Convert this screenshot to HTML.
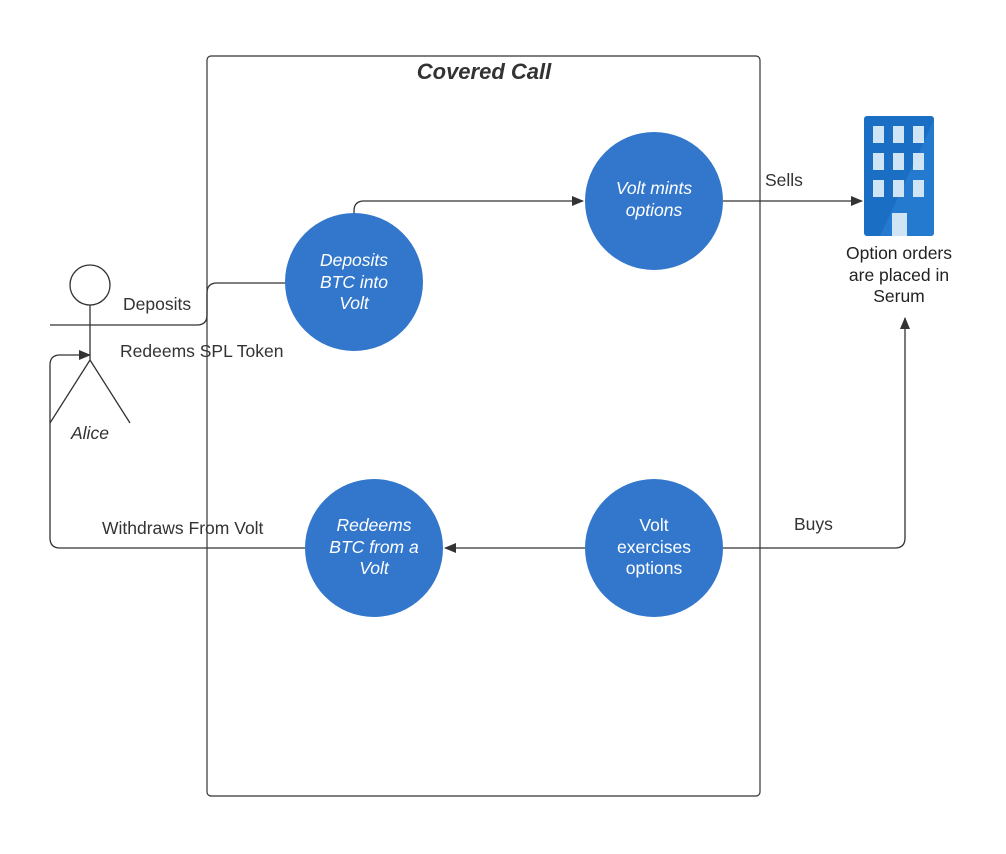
<!DOCTYPE html>
<html><head><style>body{margin:0;background:#fff}svg{display:block}text{font-family:"Liberation Sans",sans-serif}</style></head><body>
<svg width="1006" height="854" viewBox="0 0 1006 854" xmlns="http://www.w3.org/2000/svg">
<defs><marker id="a" markerWidth="12" markerHeight="10" refX="11" refY="5" orient="auto" markerUnits="userSpaceOnUse"><path d="M0,0 L12,5 L0,10 Z" fill="#333"/></marker></defs>
<rect x="207" y="56" width="553" height="740" rx="4" fill="none" stroke="#333" stroke-width="1.2"/>
<text x="484" y="79" font-size="22" font-weight="bold" font-style="italic" text-anchor="middle" fill="#333">Covered Call</text>
<g fill="none" stroke="#333" stroke-width="1.3">
<path d="M50,325 H197 Q207,325 207,315 V293 Q207,283 217,283 H285"/>
<path d="M354,215 V211 Q354,201 364,201 H583" marker-end="url(#a)"/>
<path d="M723,201 H862" marker-end="url(#a)"/>
<path d="M723,548 H895 Q905,548 905,538 V318" marker-end="url(#a)"/>
<path d="M585,548 H445" marker-end="url(#a)"/>
<path d="M305,548 H60 Q50,548 50,538 V365 Q50,355 60,355 H90" marker-end="url(#a)"/>
<circle cx="90" cy="285" r="20"/>
<path d="M90,305 V360 L50,423 M90,360 L130,423"/>
</g>
<g fill="#3377cc"><circle cx="354" cy="282" r="69"/><circle cx="654" cy="201" r="69"/><circle cx="374" cy="548" r="69"/><circle cx="654" cy="548" r="69"/></g>
<g fill="#fff" font-size="17.5" text-anchor="middle">
<g font-style="italic"><text x="354" y="266">Deposits</text><text x="354" y="288">BTC into</text><text x="354" y="309">Volt</text>
<text x="654" y="194">Volt mints</text><text x="654" y="216">options</text>
<text x="374" y="531">Redeems</text><text x="374" y="553">BTC from a</text><text x="374" y="574">Volt</text></g>
<text x="654" y="531">Volt</text><text x="654" y="553">exercises</text><text x="654" y="574">options</text>
</g>
<rect x="864" y="116" width="70" height="120" rx="3" fill="#1a6fc4"/>
<path d="M934,120 L934,233 Q934,236 931,236 L880,236 Z" fill="#2a82d6" opacity="0.6"/>
<g fill="#cfe4f5"><rect x="873" y="126" width="11" height="17"/><rect x="893" y="126" width="11" height="17"/><rect x="913" y="126" width="11" height="17"/>
<rect x="873" y="153" width="11" height="17"/><rect x="893" y="153" width="11" height="17"/><rect x="913" y="153" width="11" height="17"/>
<rect x="873" y="180" width="11" height="17"/><rect x="893" y="180" width="11" height="17"/><rect x="913" y="180" width="11" height="17"/>
<rect x="892" y="213" width="15" height="23"/></g>
<g fill="#222" font-size="17.5" text-anchor="middle"><text x="899" y="259">Option orders</text><text x="899" y="281">are placed in</text><text x="899" y="302">Serum</text></g>
<g fill="#333" font-size="17.5"><text x="123" y="310">Deposits</text><text x="120" y="357">Redeems SPL Token</text>
<text x="765" y="186">Sells</text><text x="794" y="530">Buys</text><text x="102" y="534">Withdraws From Volt</text>
<text x="71" y="439" font-style="italic">Alice</text></g>
</svg>
</body></html>
